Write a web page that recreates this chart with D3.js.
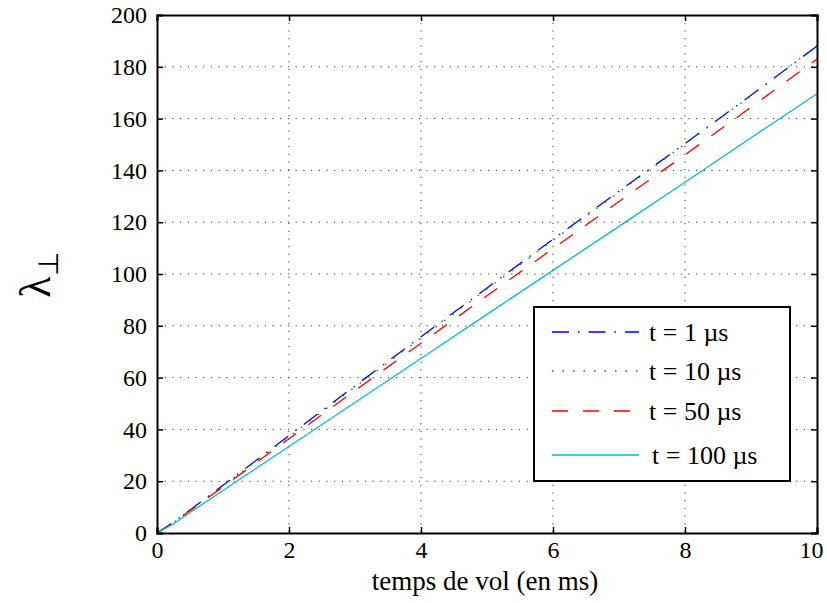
<!DOCTYPE html>
<html>
<head>
<meta charset="utf-8">
<script src="https://cdn.jsdelivr.net/npm/d3@7"></script>
<style>
  body { margin: 0; background: #fff; }
</style>
</head>
<body>
<div id="chart-area"></div>
<script>
// flight time (ms)
var times = [0, 0.25, 0.5, 1, 2, 3, 4, 5, 6, 7, 8, 9, 10];
var lambda1 = [0, 4.2, 8.9, 18.4, 37.6, 56.8, 75.8, 94.6, 113.4, 132, 150.4, 169, 188];
var lambda10 = [0, 4.1, 8.8, 18.2, 37.2, 56.4, 75.3, 94.2, 113, 131.6, 150.2, 168.8, 188.2];
var lambda50 = [0, 4.0, 8.6, 17.8, 36.4, 55, 73.3, 91.6, 109.8, 128, 146, 164.4, 183];
var lambda100 = [0, 3.5, 7.9, 16.4, 33.4, 50.4, 67.4, 84.4, 101.4, 118.4, 135.4, 152.6, 169.6];
var seriesNames = ["t = 1 \u00b5s", "t = 10 \u00b5s", "t = 50 \u00b5s", "t = 100 \u00b5s"];
var xTicks = [0, 2, 4, 6, 8, 10];
var yTicks = [0, 20, 40, 60, 80, 100, 120, 140, 160, 180, 200];

var serif = "'Liberation Serif', 'Times New Roman', serif";
var margin = {top: 15, right: 10, bottom: 70, left: 157};
var width = 817 - margin.left;
var height = 533 - margin.top;

var svg = d3.select("#chart-area")
    .append("svg")
    .attr("width", 827)
    .attr("height", 603);

var g = svg.append("g")
    .attr("transform", "translate(" + margin.left + ", " + margin.top + ")");

var x = d3.scaleLinear().domain([0, 10]).range([0, width]);
var y = d3.scaleLinear().domain([0, 200]).range([height, 0]);

// grid
g.selectAll(".vgrid").data(xTicks.slice(1, -1)).enter()
    .append("line")
    .attr("x1", (d) => x(d)).attr("x2", (d) => x(d))
    .attr("y1", 0).attr("y2", height)
    .attr("stroke", "#333").attr("stroke-width", 1)
    .attr("stroke-dasharray", "1.2,6.5");
g.selectAll(".hgrid").data(yTicks.slice(1, -1)).enter()
    .append("line")
    .attr("x1", 0).attr("x2", width)
    .attr("y1", (d) => y(d)).attr("y2", (d) => y(d))
    .attr("stroke", "#333").attr("stroke-width", 1)
    .attr("stroke-dasharray", "1.2,6.5");

// series
var styles = [
    {data: lambda1, color: "#0000ff", dash: "17,9,1.5,9"},
    {data: lambda10, color: "#008000", dash: "1.5,9"},
    {data: lambda50, color: "#ff0000", dash: "16,15"},
    {data: lambda100, color: "#00bfbf", dash: null}
];
var line = d3.line().x((d, i) => x(times[i])).y((d) => y(d));
styles.forEach((s) => {
    g.append("path")
        .datum(s.data)
        .attr("fill", "none")
        .attr("stroke", s.color)
        .attr("stroke-width", 1.3)
        .attr("stroke-dasharray", s.dash)
        .attr("d", line);
});

// axes (ticks inward, MATLAB style)
var bottomAxis = d3.axisBottom(x).tickValues(xTicks).tickSize(-6).tickPadding(8).tickFormat(d3.format("d"));
var leftAxis = d3.axisLeft(y).tickValues(yTicks).tickSize(-6).tickPadding(10).tickFormat(d3.format("d"));
var topAxis = d3.axisTop(x).tickValues(xTicks).tickSize(-6).tickFormat("");
var rightAxis = d3.axisRight(y).tickValues(yTicks).tickSize(-6).tickFormat("");

var xAxisG = g.append("g").attr("transform", "translate(0," + height + ")").call(bottomAxis);
g.append("g").call(leftAxis);
g.append("g").call(topAxis);
g.append("g").attr("transform", "translate(" + width + ",0)").call(rightAxis);

g.selectAll(".domain").attr("stroke", "#000").attr("stroke-width", 2);
g.selectAll(".tick line").attr("stroke", "#000").attr("stroke-width", 1.5);
g.selectAll(".tick text")
    .style("font-family", serif)
    .style("font-size", "24px")
    .attr("fill", "#000");
// keep the last label inside the window
xAxisG.selectAll(".tick text").filter((d) => d == 10).attr("dx", -6);

// axis labels
g.append("text")
    .attr("x", width / 2 - 2)
    .attr("y", height + 57)
    .style("font-family", serif)
    .style("font-size", "27px")
    .attr("text-anchor", "middle")
    .text("temps de vol (en ms)");

var yl = svg.append("text")
    .attr("transform", "translate(50, 275) rotate(-90)")
    .style("font-family", serif)
    .style("font-size", "44px")
    .attr("text-anchor", "middle");
yl.append("tspan").text("\u03bb");
yl.append("tspan").style("font-size", "28px").attr("dy", "8").text("\u22a5");

// legend
var lx = 534 - margin.left, ly = 307 - margin.top;
var legend = g.append("g").attr("transform", "translate(" + lx + "," + ly + ")");
legend.append("rect")
    .attr("width", 256).attr("height", 174)
    .attr("fill", "#fff").attr("stroke", "#000").attr("stroke-width", 2);
var rowY = [25, 64, 104, 148];
styles.forEach((s, i) => {
    legend.append("line")
        .attr("x1", 18).attr("x2", 105)
        .attr("y1", rowY[i]).attr("y2", rowY[i])
        .attr("stroke", s.color).attr("stroke-width", 1.3)
        .attr("stroke-dasharray", s.dash);
    legend.append("text")
        .attr("x", i == 3 ? 118 : 115)
        .attr("y", rowY[i] + 9)
        .style("font-family", serif)
        .style("font-size", "26px")
        .text(seriesNames[i]);
});
</script>
</body>
</html>
